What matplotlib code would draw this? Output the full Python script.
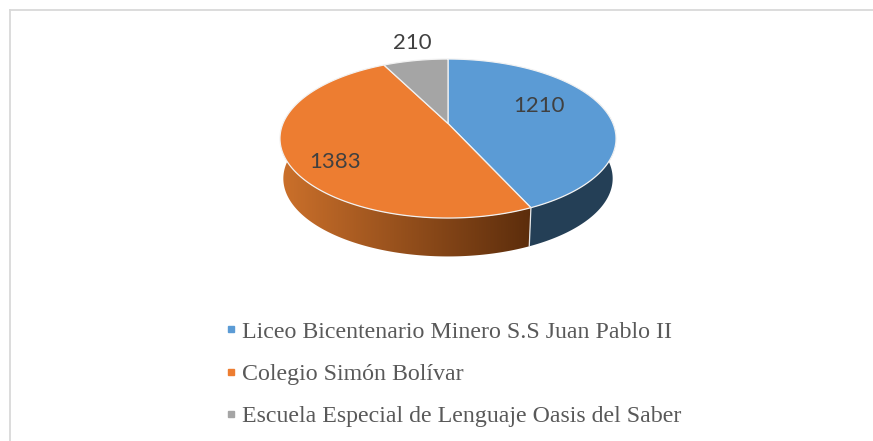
import numpy as np
import matplotlib
matplotlib.use("Agg")
import matplotlib.pyplot as plt
from matplotlib.colors import LinearSegmentedColormap
from matplotlib.lines import Line2D

labels = ["Liceo Bicentenario Minero S.S Juan Pablo II",
          "Colegio Simón Bolívar",
          "Escuela Especial de Lenguaje Oasis del Saber"]
values = [1210, 1383, 210]

colors = ["#5B9BD5", "#ED7D31", "#A5A5A5"]

# pie geometry in pixels, the chart is drawn in a tilted perspective
CX, CY = 448, 138.5
RX, RY = 165, 79.5
APEX = 15
K = 0.189
DEPTH = 40
BOTTOM_SCALE = 0.98


def project(theta, scale=1.0, dy=0.0):
    # theta in degrees, clockwise from the top of the pie
    t = np.radians(theta)
    u, v = np.sin(t), np.cos(t)
    den = 1 + K * v
    x = CX + scale * RX * u / den
    y = CY - scale * (RY * v + APEX) / den + dy
    return x, y


def wall_outline(a, b):
    th = np.linspace(a, b, 200)
    xt, yt = project(th)
    xb, yb = project(th, scale=BOTTOM_SCALE, dy=DEPTH)
    return np.r_[xt, xb[::-1]], np.r_[yt, yb[::-1]]


fig = plt.figure(figsize=(8.73, 4.41), dpi=100)
ax = fig.add_axes([0, 0, 1, 1])
ax.axis("off")

# chart frame, only top and left show in the crop
ax.plot([9.5, 873], [9.5, 9.5], color="#D9D9D9", lw=1.3)
ax.plot([9.5, 9.5], [9.5, 441], color="#D9D9D9", lw=1.3)

edges = np.concatenate([[0], np.cumsum(values)]) / sum(values) * 360

# side wall of the first slice
wx, wy = wall_outline(60, edges[1])
ax.fill(wx, wy, facecolor="#243F56", edgecolor="none")

# side wall of the second slice, shading runs from left to right
wx, wy = wall_outline(edges[1], 300)
poly = ax.fill(wx, wy, facecolor="none", edgecolor="none")[0]
shade = LinearSegmentedColormap.from_list("shade", ["#CB702B", "#5C2D0C"])
grad = ax.imshow(np.linspace(0, 1, 256)[None, :], cmap=shade, aspect="auto",
                 extent=[282, 531, 270, 130], interpolation="bilinear")
grad.set_clip_path(poly)

# seam between the two walls
sx, sy = project(edges[1])
bx, by = project(edges[1], scale=BOTTOM_SCALE, dy=DEPTH)
ax.plot([sx, bx], [sy, by], color="#E8E8E8", lw=0.9)

# top face
apex_x, apex_y = CX, CY - APEX
for i, c in enumerate(colors):
    th = np.linspace(edges[i], edges[i + 1], 200)
    x, y = project(th)
    ax.fill(np.r_[apex_x, x], np.r_[apex_y, y], facecolor=c,
            edgecolor="#F2F2F2", lw=0.9, joinstyle="round")

# data labels
label_x = [539, 335, 412]
label_y = [106, 162, 43]
for v, lx, ly in zip(values, label_x, label_y):
    ax.text(lx, ly, str(v), ha="center", va="center", fontsize=16,
            family="Lato", color="#404040")

handles = [Line2D([], [], linestyle="none", marker="s", markersize=4.6,
                  markerfacecolor=c, markeredgecolor=c) for c in colors]
ax.legend(handles, labels, loc="upper left", bbox_to_anchor=(222.5 / 873, 1 - 321 / 441),
          frameon=False, handlelength=0.7, handletextpad=0.1, labelspacing=0.86,
          borderpad=0, borderaxespad=0, labelcolor="#595959",
          prop={"family": "Liberation Serif", "size": 17.2})

ax.set_xlim(0, 873)
ax.set_ylim(441, 0)

fig.savefig("out.png", dpi=100)
